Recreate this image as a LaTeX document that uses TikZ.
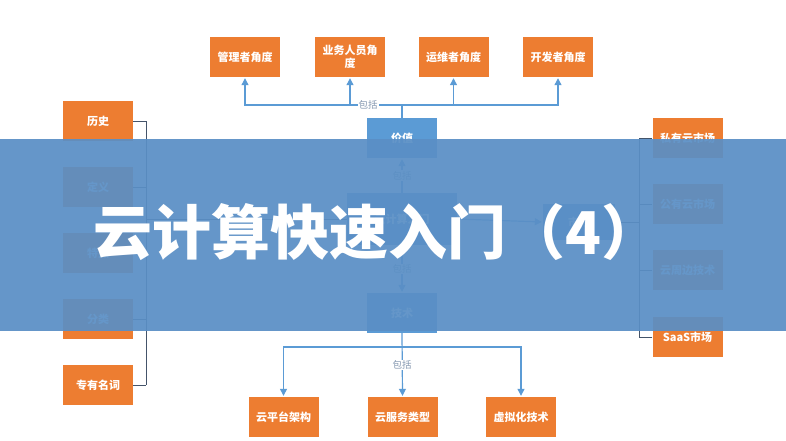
\documentclass[tikz,border=0pt]{standalone}
\usepackage{fontspec}
\setmainfont{Noto Sans CJK SC}
\usetikzlibrary{arrows.meta}
\definecolor{boxorange}{HTML}{ED7D31}
\definecolor{boxblue}{HTML}{5B9BD5}
\definecolor{linkblue}{HTML}{5B9BD5}
\definecolor{linkgray}{HTML}{44546A}
\definecolor{taggray}{HTML}{8497B0}
\definecolor{bannerblue}{HTML}{5A8FC5}

\begin{document}
\begin{tikzpicture}[x=1pt,y=-1pt,>={Triangle[width=7pt,length=7pt]},
  orange node/.style={rectangle,fill=boxorange,text=white,font=\fontsize{11}{13}\selectfont\bfseries,
    minimum width=70pt,minimum height=40pt,text width=62pt,align=center,inner sep=0pt},
  blue node/.style={orange node,fill=boxblue},
  link/.style={draw=linkblue,line width=1.2pt},
  side link/.style={draw=linkgray,line width=0.8pt},
  tag/.style={font=\fontsize{9.5}{11}\selectfont,text=taggray,fill=white,inner sep=1pt}]

  \useasboundingbox[fill=white] (0,0) rectangle (786,440);

  % centre column
  \node[blue node] (value) at (402,138) {价值};
  \node[blue node,minimum width=110pt,minimum height=52pt,text width=100pt] (core) at (402,219) {云计算入门};
  \node[blue node,minimum width=72pt,minimum height=36pt] (market) at (579,222) {市场};
  \node[blue node] (tech) at (402,313) {技术};

  % top row
  \node[orange node] (v1) at (245,57) {管理者角度};
  \node[orange node] (v2) at (350,57) {业务人员角\\度};
  \node[orange node] (v3) at (453.5,57) {运维者角度};
  \node[orange node] (v4) at (558,57) {开发者角度};

  % bottom row
  \node[orange node] (t1) at (283.5,417) {云平台架构};
  \node[orange node] (t2) at (402.5,417) {云服务类型};
  \node[orange node] (t3) at (521,417) {虚拟化技术};

  % left column
  \node[orange node] (h1) at (98,121) {历史};
  \node[orange node] (h2) at (98,187) {定义};
  \node[orange node] (h3) at (98,253) {特点};
  \node[orange node] (h4) at (98,319) {分类};
  \node[orange node] (h5) at (98,385) {专有名词};

  % right column
  \node[orange node] (m1) at (687.5,138) {私有云市场};
  \node[orange node] (m2) at (687.5,204) {公有云市场};
  \node[orange node] (m3) at (687.5,270) {云周边技术};
  \node[orange node] (m4) at (687.5,337) {SaaS市场};

  \coordinate (upbus) at (402,105);
  \coordinate (downbus) at (402,347);
  \coordinate (leftbus) at (146,219);
  \coordinate (rightbus) at (639,222);

  % value branch
  \draw[link] (value.north) -- (upbus);
  \foreach \v in {v1,v2,v3,v4}
    \draw[link,->,shorten >=1pt] (upbus) -| (\v.south);
  \node[tag] at (368,105) {包括};

  % technology branch
  \draw[link,->,shorten >=1pt] (tech.south) -- (t2.north);
  \draw[link,->,shorten >=1pt] (downbus) -| (t1.north);
  \draw[link,->,shorten >=1pt] (downbus) -| (t3.north);
  \node[tag] at (402,365) {包括};

  % core links
  \draw[link,->,shorten >=1pt] (core.north) -- node[tag] {包括} (value.south);
  \draw[link,->,shorten >=1pt] (core.south) -- node[tag] {包括} (tech.north);
  \draw[link,->,shorten >=1pt] (core.east) -- (market.west);

  % side columns
  \draw[side link] (leftbus) -- (core.west);
  \draw[side link] (146,121) -- (146,385);
  \foreach \h in {h1,h2,h3,h4,h5}
    \draw[side link] (\h.east) -- (\h.east -| leftbus);
  \draw[side link] (market.east) -- (rightbus);
  \draw[side link] (639,138) -- (639,337);
  \foreach \m in {m1,m2,m3,m4}
    \draw[side link] (\m.west) -- (\m.west -| rightbus);

  % banner
  \fill[bannerblue,opacity=0.93] (0,139) rectangle (786,331);
  \node[text=white,font=\fontsize{59}{62}\selectfont\bfseries] (title) at (377,232) {云计算快速入门（4）};
\end{tikzpicture}
\end{document}
